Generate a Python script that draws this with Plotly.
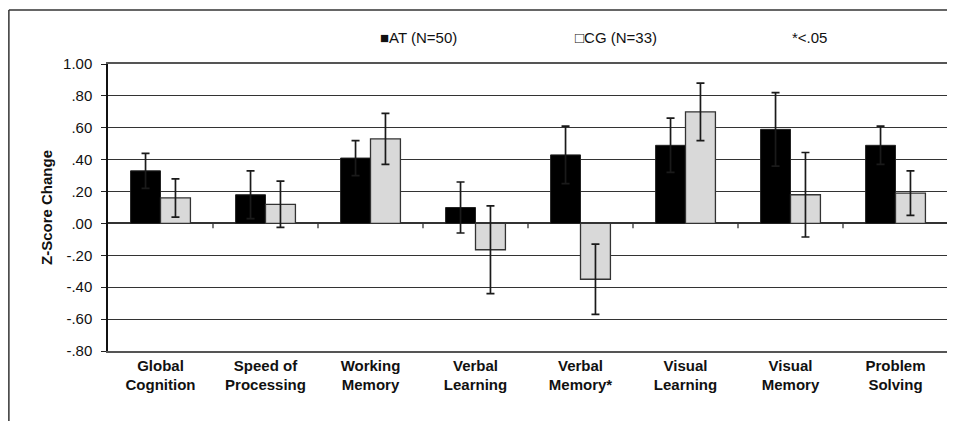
import plotly.graph_objects as go

categories = ["Global<br>Cognition", "Speed of<br>Processing", "Working<br>Memory",
              "Verbal<br>Learning", "Verbal<br>Memory*", "Visual<br>Learning",
              "Visual<br>Memory", "Problem<br>Solving"]
at_values = [0.33, 0.18, 0.41, 0.10, 0.43, 0.49, 0.59, 0.49]
at_errors = [0.11, 0.15, 0.11, 0.16, 0.18, 0.17, 0.23, 0.12]
cg_values = [0.16, 0.12, 0.53, -0.165, -0.35, 0.70, 0.18, 0.19]
cg_errors = [0.12, 0.145, 0.16, 0.275, 0.22, 0.18, 0.265, 0.14]
ytick_vals = [1.0, 0.8, 0.6, 0.4, 0.2, 0.0, -0.2, -0.4, -0.6, -0.8]
ytick_text = ["1.00", ".80", ".60", ".40", ".20", ".00", "-.20", "-.40", "-.60", "-.80"]

FONT = "Liberation Sans, Arial, sans-serif"
x_idx = list(range(len(categories)))

fig = go.Figure()
fig.add_trace(go.Bar(
    x=x_idx, y=at_values, name="AT (N=50)",
    marker=dict(color="#000000", line=dict(color="#222222", width=1)),
    error_y=dict(type="data", array=at_errors, color="#1a1a1a", thickness=1.7, width=4),
))
fig.add_trace(go.Bar(
    x=x_idx, y=cg_values, name="CG (N=33)",
    marker=dict(color="#d9d9d9", line=dict(color="#333333", width=1.3)),
    error_y=dict(type="data", array=cg_errors, color="#1a1a1a", thickness=1.7, width=4),
))

# small category divider ticks on the zero line
for i in range(1, len(categories)):
    fig.add_shape(type="line", xref="x", yref="y", x0=i - 0.5, x1=i - 0.5,
                  y0=0, y1=-0.03, line=dict(color="#333333", width=1.3))

# outer frame (top and left edges)
fig.add_shape(type="line", xref="paper", yref="paper", x0=-0.118, x1=1.03,
              y0=1.188, y1=1.188, line=dict(color="#333333", width=1.5))
fig.add_shape(type="line", xref="paper", yref="paper", x0=-0.118, x1=-0.118,
              y0=1.188, y1=-0.3, line=dict(color="#333333", width=1.5))

# legend-like labels
fig.add_annotation(text="■AT (N=50)", xref="paper", yref="paper", x=0.3214, y=1.094,
                   xanchor="left", yanchor="middle", showarrow=False,
                   font=dict(family=FONT, size=15, color="#111111"))
fig.add_annotation(text="□CG (N=33)", xref="paper", yref="paper", x=0.5536, y=1.094,
                   xanchor="left", yanchor="middle", showarrow=False,
                   font=dict(family=FONT, size=15, color="#111111"))
fig.add_annotation(text="*<.05", xref="paper", yref="paper", x=0.812, y=1.094,
                   xanchor="left", yanchor="middle", showarrow=False,
                   font=dict(family=FONT, size=15, color="#111111"))

fig.update_layout(
    width=947, height=413,
    margin=dict(l=100, r=7, t=56, b=70),
    paper_bgcolor="white", plot_bgcolor="white",
    barmode="group", bargap=0.43, bargroupgap=0,
    showlegend=False,
    font=dict(family=FONT, size=15, color="#111111"),
)
fig.update_xaxes(
    range=[-0.5, len(categories) - 0.5],
    tickmode="array", tickvals=x_idx, ticktext=categories,
    tickfont=dict(family=FONT, size=15, color="#111111", weight="bold"),
    showgrid=False, zeroline=False, ticks="",
    showline=True, linecolor="#555555", linewidth=1.5, mirror=True,
)
fig.update_yaxes(
    range=[-0.8, 1.0],
    tickmode="array", tickvals=ytick_vals, ticktext=ytick_text,
    tickfont=dict(family=FONT, size=15, color="#111111"),
    ticks="outside", ticklen=5, tickcolor="#222222", ticklabelstandoff=6,
    showgrid=True, gridcolor="#333333", gridwidth=1.3,
    zeroline=True, zerolinecolor="#333333", zerolinewidth=1.5,
    showline=True, linecolor="#111111", linewidth=1.5,
    title=dict(text="<b>Z-Score Change</b>", font=dict(family=FONT, size=15, color="#111111"),
               standoff=7),
)

fig.write_html("out.html")
